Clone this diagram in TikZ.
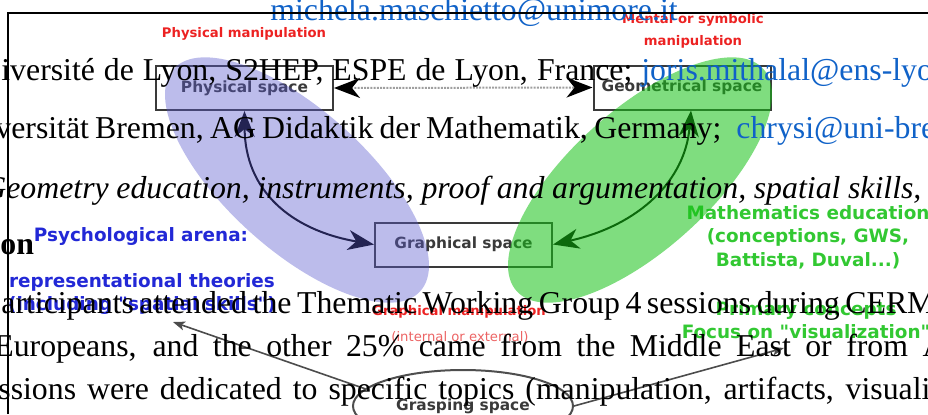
\documentclass[tikz,border=0pt]{standalone}
\usepackage{fontspec}
\setmainfont{Liberation Serif}
\newfontfamily\labelfont{DejaVu Sans}
\usetikzlibrary{arrows.meta, shapes.geometric}
\definecolor{mailblue}{RGB}{16,98,200}
\definecolor{manipred}{RGB}{236,34,34}
\definecolor{softred}{RGB}{236,100,100}
\definecolor{arenablue}{RGB}{34,40,214}
\definecolor{edugreen}{RGB}{50,200,50}
\definecolor{lavender}{RGB}{88,88,205}
\definecolor{leafgreen}{RGB}{22,193,22}
\definecolor{boxgray}{RGB}{58,58,58}
\newcommand{\bodysize}{\fontsize{15.9}{19}\selectfont}
\newcommand{\spacefont}{\labelfont\bfseries\fontsize{7.7}{9}\selectfont}
\newcommand{\manipfont}{\labelfont\bfseries\fontsize{6.6}{11}\selectfont}
\newcommand{\arenafont}{\labelfont\bfseries\fontsize{9.2}{11.75}\selectfont}
\newcommand{\spread}[2]{\makebox[#1][s]{#2}}

\begin{document}
\begin{tikzpicture}[x=0.5pt, y=-0.5pt,
  bodytext/.style={anchor=base west, inner sep=0pt, font=\bodysize},
  mail/.style={bodytext, text=mailblue},
  spacebox/.style={draw=boxgray, line width=1pt, minimum width=88.5pt,
    minimum height=22pt, inner sep=0pt, font=\spacefont, text=boxgray},
  manip/.style={inner sep=0pt, font=\manipfont, text=manipred, align=center},
  arena/.style={inner sep=0pt, font=\arenafont, align=center},
  bigtip/.tip={Stealth[length=13pt, width=10pt, inset=4pt]},
  smalltip/.tip={Stealth[length=6pt, width=4.5pt, inset=1.5pt]}]
\useasboundingbox (0,0) rectangle (928,414);

% ---- labels round the diagram ----
\node[manip] (physman) at (244,34) {Physical manipulation};
\node[manip] (mentalman) at (693,31) {Mental or symbolic\\manipulation};
\node[manip] (graphman) at (459,312) {Graphical manipulation};
\node[manip, text=softred, font=\labelfont\fontsize{6.6}{8}\selectfont]
  (graphnote) at (460,337) {(internal or external)};
\node[arena, text=arenablue] (arena) at (141,236) {Psychological arena:};
\node[arena, text=arenablue] (theories) at (142,294)
  {representational theories\\(including "spatial skills")};
\node[arena, text=edugreen] (matheduc) at (808,237)
  {Mathematics education\\(conceptions, GWS,\\Battista, Duval...)};
\node[arena, text=edugreen] (focus) at (806,320)
  {Primary concepts\\Focus on "visualization"};

% ---- the three spaces ----
\node[spacebox] (physical) at (244.5,88) {Physical space};
\node[spacebox] (geometrical) at (682,87.5) {Geometrical space};
\node[spacebox] (graphical) at (463.5,244.5) {Graphical space};
\node[draw=boxgray!90, line width=1pt, ellipse, minimum width=110pt,
  minimum height=36pt, inner sep=0pt, font=\spacefont, text=boxgray]
  (grasp) at (463,406) {Grasping space};

\draw[{bigtip[color=black]}-{bigtip[color=black]}, gray!75, line width=1pt,
  dash pattern=on 1pt off 0.6pt] (physical.east) -- (geometrical.west);
\draw[bigtip-bigtip, line width=1pt] (physical.south)
  .. controls (245,190) and (290,230) .. (graphical.west);
\draw[bigtip-bigtip, line width=1pt] ([xshift=4.5pt]geometrical.south)
  .. controls (685,180) and (640,225) .. (graphical.east);

\coordinate (theorytip) at (173,322);
\coordinate (visutip) at (784,348);
\draw[-smalltip, gray!60!black, line width=0.8pt] (grasp.170) -- (theorytip);
\draw[-smalltip, gray!60!black, line width=0.8pt] (grasp.east) -- (visutip);

% ---- the two arenas, see-through ----
\fill[lavender, opacity=0.4, rotate around={-42:(297,180)}]
  (297,180) ellipse [x radius=166, y radius=70];
\fill[leafgreen, opacity=0.55, rotate around={42:(640,180)}]
  (640,180) ellipse [x radius=166, y radius=70];

% ---- page text over the figure ----
\node[mail] (mail1) at (270,20) {michela.maschietto@unimore.it};
\node[bodytext] (lyon) at (1,80)
  {\spread{315.5pt}{iversité de Lyon, S2HEP, ESPE de Lyon, France;}};
\node[mail] (mail2) at (641,80) {joris.mithalal@ens-lyo};
\node[bodytext] (bremen) at (-5,138)
  {\spread{363pt}{versität Bremen, AG Didaktik der Mathematik, Germany;}};
\node[mail] (mail3) at (736,138) {chrysi@uni-bre};
\node[bodytext, font=\bodysize\itshape] (keywords) at (-17,198)
  {\spread{469pt}{Geometry education, instruments, proof and argumentation, spatial skills,}};
\node[bodytext, font=\bodysize\bfseries] (section) at (0,254) {on};
\node[bodytext] (para1) at (1,313)
  {\spread{467pt}{articipants attended the Thematic Working Group 4 sessions during CERM}};
\node[bodytext] (para2) at (-6,356)
  {\spread{475.5pt}{Europeans, and the other 25\% came from the Middle East or from A}};
\node[bodytext] (para3) at (-2,399)
  {\spread{466pt}{ssions were dedicated to specific topics (manipulation, artifacts, visuali}};

\draw[line width=0.7pt] (8,414) -- (8,13) -- (928,13);
\end{tikzpicture}
\end{document}
